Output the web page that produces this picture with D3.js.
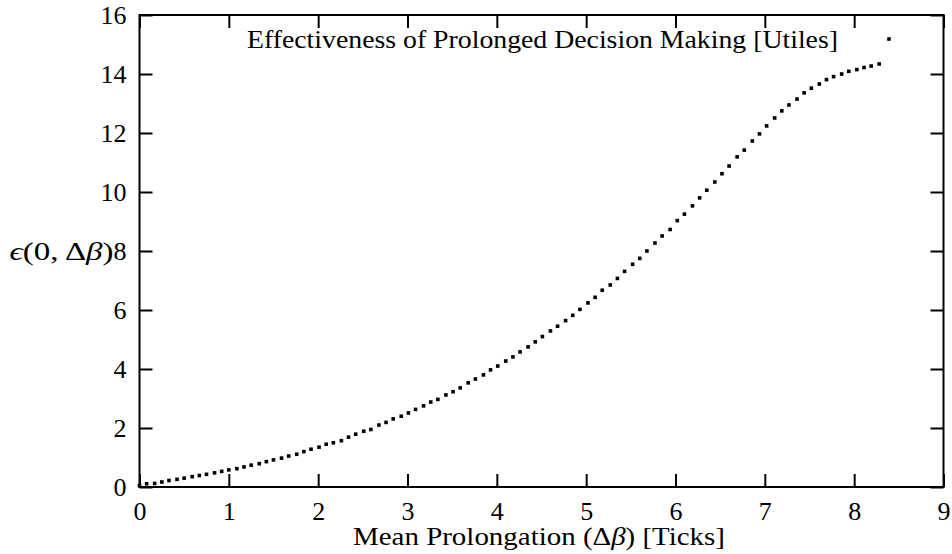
<!DOCTYPE html>
<html>
<head>
<meta charset="utf-8">
<script src="https://cdn.jsdelivr.net/npm/d3@7"></script>
<style>
  body { margin: 0; background: #fff; }
  text { font-family: "Liberation Serif", "DejaVu Serif", serif; fill: #000; }
</style>
</head>
<body>
<div id="chart"></div>
<script>
// mean prolongation (x) and effectiveness (y)
const prolongation = [
  0.00, 0.08, 0.17, 0.25, 0.33, 0.42, 0.50, 0.59, 0.67, 0.75,
  0.84, 0.92, 1.00, 1.09, 1.17, 1.25, 1.34, 1.42, 1.50, 1.59,
  1.67, 1.76, 1.84, 1.92, 2.01, 2.09, 2.17, 2.26, 2.34, 2.42,
  2.51, 2.59, 2.68, 2.76, 2.84, 2.93, 3.01, 3.09, 3.18, 3.26,
  3.34, 3.43, 3.51, 3.59, 3.68, 3.76, 3.85, 3.93, 4.01, 4.10,
  4.18, 4.26, 4.35, 4.43, 4.51, 4.60, 4.68, 4.77, 4.85, 4.93,
  5.02, 5.10, 5.18, 5.27, 5.35, 5.43, 5.52, 5.60, 5.68, 5.77,
  5.85, 5.94, 6.02, 6.10, 6.19, 6.27, 6.35, 6.44, 6.52, 6.60,
  6.69, 6.77, 6.86, 6.94, 7.02, 7.11, 7.19, 7.27, 7.36, 7.44,
  7.52, 7.61, 7.69, 7.77, 7.86, 7.94, 8.03, 8.11, 8.19, 8.28
];
const effectiveness = [
  0.05, 0.11, 0.12, 0.17, 0.22, 0.26, 0.30, 0.35, 0.39, 0.43,
  0.48, 0.53, 0.58, 0.62, 0.68, 0.74, 0.79, 0.86, 0.92, 0.98,
  1.05, 1.11, 1.20, 1.28, 1.35, 1.45, 1.50, 1.57, 1.69, 1.79,
  1.89, 1.95, 2.10, 2.19, 2.31, 2.40, 2.51, 2.63, 2.75, 2.88,
  2.97, 3.12, 3.23, 3.36, 3.53, 3.66, 3.80, 3.97, 4.10, 4.27,
  4.41, 4.58, 4.75, 4.92, 5.10, 5.29, 5.45, 5.64, 5.82, 6.02,
  6.24, 6.43, 6.67, 6.85, 7.07, 7.31, 7.55, 7.75, 8.00, 8.27,
  8.51, 8.73, 9.03, 9.25, 9.53, 9.80, 10.06, 10.34, 10.62, 10.88,
  11.19, 11.42, 11.73, 11.97, 12.24, 12.51, 12.75, 12.95, 13.15, 13.36,
  13.52, 13.66, 13.81, 13.91, 14.00, 14.09, 14.15, 14.22, 14.27, 14.34
];
const xTicks = [0, 1, 2, 3, 4, 5, 6, 7, 8, 9];
const yTicks = [0, 2, 4, 6, 8, 10, 12, 14, 16];
const keyLabel = "Effectiveness of Prolonged Decision Making [Utiles]";

const data = prolongation.map((d, i) => ({ x: d, y: effectiveness[i] }));

// set the dimensions and margins of the graph
const margin = { top: 15, right: 8.5, bottom: 67, left: 139.5 },
  width = 952 - margin.left - margin.right,
  height = 554 - margin.top - margin.bottom;

const svg = d3
  .select("#chart")
  .append("svg")
  .attr("width", 952)
  .attr("height", 554)
  .append("g")
  .attr("transform", `translate(${margin.left}, ${margin.top})`);

const x = d3.scaleLinear().domain([0, 9]).range([0, width]);
const y = d3.scaleLinear().domain([0, 16]).range([height, 0]);

const fontSize = 26;
const tick = 13;

// bottom axis with labels, ticks pointing inward
const axBottom = svg
  .append("g")
  .attr("transform", `translate(0, ${height})`)
  .call(d3.axisBottom(x).tickValues(xTicks).tickSizeInner(-tick).tickSizeOuter(0).tickPadding(15));
// left axis
const axLeft = svg
  .append("g")
  .call(d3.axisLeft(y).tickValues(yTicks).tickSizeInner(-tick).tickSizeOuter(0).tickPadding(13));
// mirrored ticks on top and right
const axTop = svg
  .append("g")
  .call(d3.axisTop(x).tickValues(xTicks).tickSizeInner(-tick).tickSizeOuter(0).tickFormat(""));
const axRight = svg
  .append("g")
  .attr("transform", `translate(${width}, 0)`)
  .call(d3.axisRight(y).tickValues(yTicks).tickSizeInner(-tick).tickSizeOuter(0).tickFormat(""));

[axBottom, axLeft, axTop, axRight].forEach((g) => {
  g.select(".domain").remove();
  g.selectAll("line").attr("stroke", "#000").attr("stroke-width", 2);
  g.selectAll("text")
    .style("font-family", '"Liberation Serif", serif')
    .style("font-size", fontSize + "px")
    .attr("fill", "#000");
});

// frame
svg
  .append("rect")
  .attr("x", 0)
  .attr("y", 0)
  .attr("width", width)
  .attr("height", height)
  .attr("fill", "none")
  .attr("stroke", "#000")
  .attr("stroke-width", 2);

// axis labels
const xlab = svg
  .append("text")
  .attr("x", width / 2 - 2.5)
  .attr("y", height + 58)
  .attr("text-anchor", "middle")
  .attr("textLength", 372)
  .attr("lengthAdjust", "spacingAndGlyphs")
  .style("font-size", fontSize + "px");
xlab.append("tspan").text("Mean Prolongation (Δ");
xlab.append("tspan").style("font-style", "italic").text("β");
xlab.append("tspan").text(") [Ticks]");

const ylab = svg
  .append("text")
  .attr("x", -26)
  .attr("y", y(8))
  .attr("dy", "0.36em")
  .attr("text-anchor", "end")
  .attr("textLength", 104)
  .attr("lengthAdjust", "spacingAndGlyphs")
  .style("font-size", fontSize + "px");
ylab.append("tspan").style("font-style", "italic").text("ϵ");
ylab.append("tspan").text("(0, Δ");
ylab.append("tspan").style("font-style", "italic").text("β");
ylab.append("tspan").text(")");

// key
svg
  .append("text")
  .attr("x", 698.5)
  .attr("y", 32.5)
  .attr("text-anchor", "end")
  .attr("textLength", 591)
  .attr("lengthAdjust", "spacingAndGlyphs")
  .style("font-size", fontSize + "px")
  .text(keyLabel);

const sz = 3.6;
svg
  .append("rect")
  .attr("x", 749.5 - sz / 2)
  .attr("y", 24 - sz / 2)
  .attr("width", sz)
  .attr("height", sz)
  .attr("fill", "#000");

// the points
svg
  .selectAll(".pt")
  .data(data)
  .join("rect")
  .attr("class", "pt")
  .attr("x", (d) => x(d.x) - sz / 2)
  .attr("y", (d) => y(d.y) - sz / 2)
  .attr("width", sz)
  .attr("height", sz)
  .attr("fill", "#000");
</script>
</body>
</html>
